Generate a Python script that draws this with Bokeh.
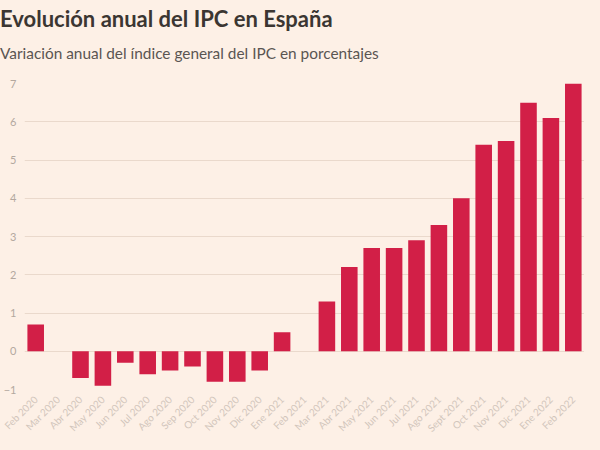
import math
from bokeh.plotting import figure
from bokeh.layouts import column
from bokeh.models import (ColumnDataSource, FactorRange, Range1d, FixedTicker, Div,
                          GlobalInlineStyleSheet)
from bokeh.embed import file_html
from bokeh.resources import INLINE

months = ["Feb 2020", "Mar 2020", "Abr 2020", "May 2020", "Jun 2020", "Jul 2020",
          "Ago 2020", "Sep 2020", "Oct 2020", "Nov 2020", "Dic 2020", "Ene 2021",
          "Feb 2021", "Mar 2021", "Abr 2021", "May 2021", "Jun 2021", "Jul 2021",
          "Ago 2021", "Sept 2021", "Oct 2021", "Nov 2021", "Dic 2021", "Ene 2022",
          "Feb 2022"]
ipc = [0.7, 0.0, -0.7, -0.9, -0.3, -0.6, -0.5, -0.4, -0.8, -0.8, -0.5, 0.5,
       0.0, 1.3, 2.2, 2.7, 2.7, 2.9, 3.3, 4.0, 5.4, 5.5, 6.5, 6.1, 7.0]
y_ticks = [-1, 0, 1, 2, 3, 4, 5, 6, 7]

title_text = "Evolución anual del IPC en España"
subtitle_text = "Variación anual del índice general del IPC en porcentajes"

BG = "#fdf0e6"
FONT = "Lato"
W = 584

title_div = Div(text=title_text, width=W, height=36, margin=(5, 0, 0, 0),
                styles={"font-family": FONT, "font-size": "22px", "font-weight": "bold",
                        "color": "#3b3632", "line-height": "26px", "padding-top": "1px",
                        "white-space": "nowrap"})
subtitle_div = Div(text=subtitle_text, width=W, height=31, margin=(3, 0, 0, 0),
                   styles={"font-family": FONT, "font-size": "15.4px", "font-weight": "normal",
                           "color": "#5a5552", "line-height": "18px",
                           "white-space": "nowrap"})

src = ColumnDataSource(dict(month=months, ipc=ipc))

p = figure(width=W, height=366, x_range=FactorRange(*months, range_padding=0),
           y_range=Range1d(-1, 7), output_backend="svg", toolbar_location=None,
           background_fill_color=BG, border_fill_color=BG, outline_line_color=None,
           min_border_left=21, min_border_right=0, min_border_top=8, min_border_bottom=0,
           margin=(0, 0, 0, 0))

p.vbar(x="month", top="ipc", bottom=0, width=0.74, source=src,
       fill_color="#d21f47", line_color=None)

p.xgrid.grid_line_color = None
p.ygrid.grid_line_color = "#ead9cc"
p.ygrid.grid_line_width = 1

p.yaxis.ticker = FixedTicker(ticks=y_ticks)
p.yaxis.axis_line_color = None
p.yaxis.major_tick_line_color = None
p.yaxis.minor_tick_line_color = None
p.yaxis.major_tick_out = 0
p.yaxis.major_tick_in = 0
p.yaxis.major_label_text_font = FONT
p.yaxis.major_label_text_font_size = "11px"
p.yaxis.major_label_text_color = "#b3a89f"
p.yaxis.major_label_standoff = 8

p.xaxis.axis_line_color = None
p.xaxis.major_tick_line_color = None
p.xaxis.minor_tick_line_color = None
p.xaxis.major_tick_out = 0
p.xaxis.major_tick_in = 0
p.xaxis.major_label_orientation = math.pi / 4
p.xaxis.major_label_text_font = FONT
p.xaxis.major_label_text_font_size = "10px"
p.xaxis.major_label_text_line_height = 1.0
p.xaxis.major_label_text_color = "#d2c6bc"
p.xaxis.major_label_standoff = 8

layout = column(title_div, subtitle_div, p, spacing=0, margin=(0, 0, 0, 0))
layout.stylesheets = [GlobalInlineStyleSheet(css="html, body { background: #fdf0e6; }")]

open("out.html", "w").write(file_html(layout, INLINE))
